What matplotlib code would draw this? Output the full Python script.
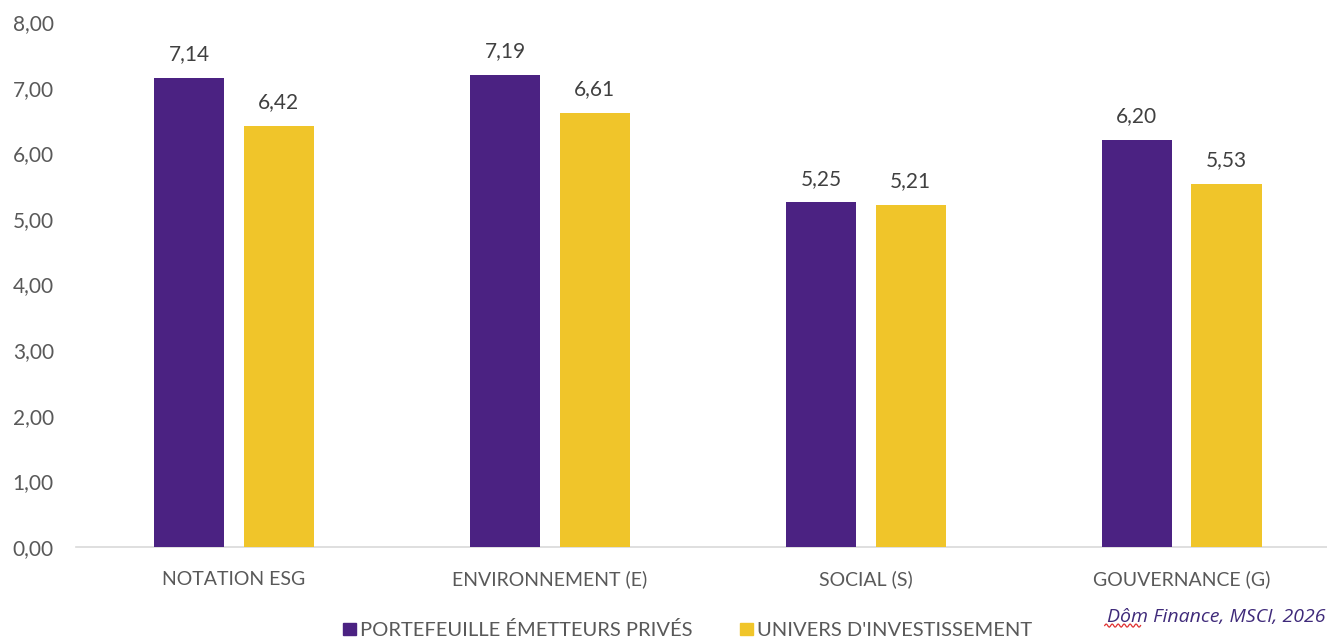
import numpy as np
import matplotlib
matplotlib.use("Agg")
import matplotlib.pyplot as plt
from matplotlib.ticker import FuncFormatter, MultipleLocator
from matplotlib.patches import Rectangle

categories = ["NOTATION ESG", "ENVIRONNEMENT (E)", "SOCIAL (S)", "GOUVERNANCE (G)"]
portefeuille = [7.14, 7.19, 5.25, 6.20]
univers = [6.42, 6.61, 5.21, 5.53]
series_names = ["PORTEFEUILLE ÉMETTEURS PRIVÉS", "UNIVERS D'INVESTISSEMENT"]
source_text = "Dôm Finance, MSCI, 2026"

PURPLE = "#4B2282"
YELLOW = "#F0C52A"
GREY = "#595959"
DARK = "#404040"

plt.rcParams["font.family"] = ["Lato", "DejaVu Sans"]

fig = plt.figure(figsize=(13.27, 6.38), dpi=100)
ax = fig.add_axes([0.0573, 0.1426, 0.9427, 0.8229])

x = np.arange(len(categories))
w = 0.222
off = 0.142
b1 = ax.bar(x - off, portefeuille, w, color=PURPLE, zorder=3)
b2 = ax.bar(x + off, univers, w, color=YELLOW, zorder=3)

fmt = lambda v: f"{v:.2f}".replace(".", ",")
for bars, vals in ((b1, portefeuille), (b2, univers)):
    for r, v in zip(bars, vals):
        ax.annotate(fmt(v), (r.get_x() + r.get_width() / 2, v),
                    xytext=(0, 10), textcoords="offset points",
                    ha="center", va="bottom", fontsize=15, color=DARK)

ax.set_ylim(0, 8)
ax.set_xlim(-0.5, 3.46)
ax.yaxis.set_major_locator(MultipleLocator(1))
ax.yaxis.set_major_formatter(FuncFormatter(lambda v, p: fmt(v)))
ax.set_xticks(x)
ax.set_xticklabels(categories)
ax.tick_params(axis="y", length=0, labelsize=15, labelcolor=GREY, pad=16)
ax.tick_params(axis="x", length=0, labelsize=14, labelcolor=GREY, pad=17)
for s in ("top", "right", "left"):
    ax.spines[s].set_visible(False)
ax.spines["bottom"].set_color("#D9D9D9")
ax.spines["bottom"].set_linewidth(1.2)

# legend drawn along the bottom edge
for sx, col, name in ((0.2585, PURPLE, series_names[0]), (0.5577, YELLOW, series_names[1])):
    fig.patches.append(Rectangle((sx, 0.004), 0.0095, 0.0195, transform=fig.transFigure,
                                 color=col))
    fig.text(sx + 0.0128, 0.0125, name, fontsize=14.5, color=GREY, va="center", ha="left")

fig.text(0.9985, 0.033, source_text, fontsize=14, color="#3F2A7A", style="italic",
         ha="right", va="center", family=["Open Sans", "DejaVu Sans"])

# spell-check style wavy underline under the first word
wx = np.linspace(0.8325, 0.8595, 40)
wy = 0.0195 + 0.0025 * np.sin(np.linspace(0, 12 * np.pi, 40))
fig.add_artist(plt.Line2D(wx, wy, color="#E03030", lw=0.9, transform=fig.transFigure))

fig.savefig("out.png", dpi=100, facecolor="white")
